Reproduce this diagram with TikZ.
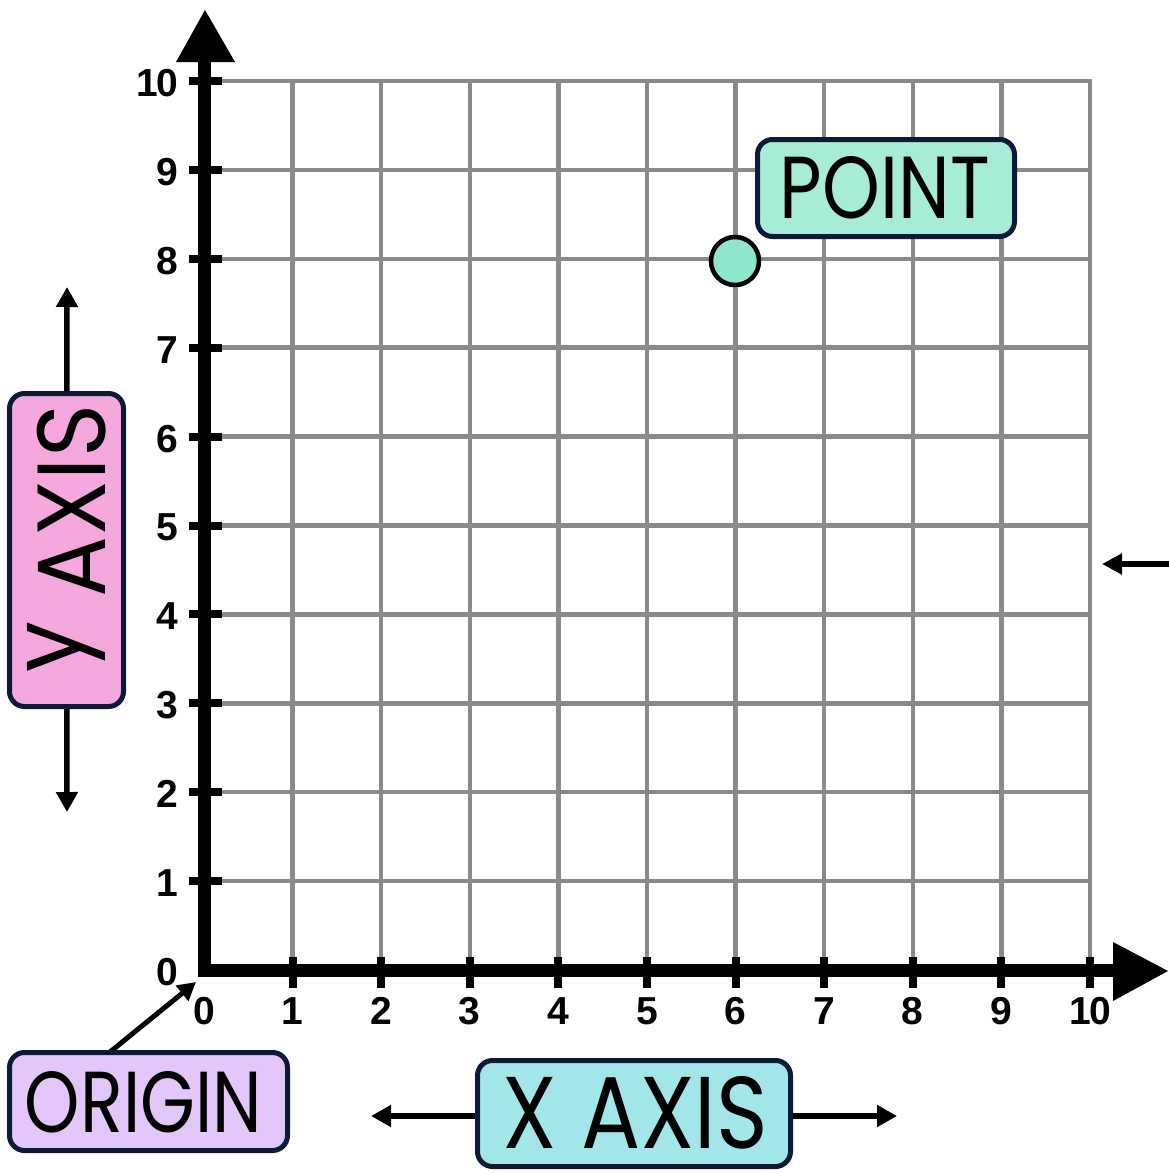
\documentclass[tikz,border=0pt]{standalone}
\usepackage{fontspec}
\usepackage{graphicx}
\setmainfont{Liberation Sans}
\newfontfamily\hand{Poppins}
\usetikzlibrary{arrows.meta}
\definecolor{gridgray}{HTML}{8A8A8A}
\definecolor{boxline}{HTML}{0C1A36}
\definecolor{pointbox}{HTML}{A6ECD7}
\definecolor{pointfill}{HTML}{8EE6CC}
\definecolor{yboxc}{HTML}{F5A8DE}
\definecolor{oboxc}{HTML}{E3C6FA}
\definecolor{xboxc}{HTML}{A2E6EA}
\begin{document}
\begin{tikzpicture}[x=1pt,y=-1pt,
  gridline/.style={gridgray,line width=4.5pt,line cap=rect},
  axisline/.style={black,line width=13pt},
  tickmark/.style={black,line width=8pt},
  ticklabel/.style={font=\fontsize{39}{39}\bfseries\selectfont,inner sep=0pt},
  labelbox/.style={draw=boxline,line width=5pt,rounded corners=15pt,inner sep=0pt},
  labeltext/.style={inner sep=0pt,font=\hand},
  pointer/.style={black,line width=5.5pt,-{Triangle[length=20pt,width=21pt]}},
]
\useasboundingbox (0,0) rectangle (1169,1173);
% grid
\foreach \i in {1,...,10}{
  \draw[gridline] ({204+88.6*\i},81) -- ({204+88.6*\i},970);
  \draw[gridline] (204,{970-88.9*\i}) -- (1090,{970-88.9*\i});
}
% ticks
\foreach \i in {1,...,10}{
  \draw[tickmark] (189,{970-88.9*\i}) -- (222,{970-88.9*\i});
  \draw[tickmark] ({204+88.6*\i},957) -- ({204+88.6*\i},988);
}
% axes
\draw[axisline] (204,977) -- (204,60);
\draw[axisline] (198,970) -- (1115,970);
\fill[black] (176,62) -- (205,10) -- (235,62) -- cycle;
\fill[black] (1113,942) -- (1168,971) -- (1113,1001) -- cycle;
% tick labels
\foreach \i in {0,...,10}{
  \node[ticklabel,anchor=east] (ylab\i) at (178,{972-88.9*\i}) {\ifnum\i=10 1\kern-2pt0\else\i\fi};
  \node[ticklabel] (xlab\i) at ({204+88.6*\i},1011) {\ifnum\i=10 1\kern-2pt0\else\i\fi};
}
% point
\node[circle,draw=black,line width=4.5pt,fill=pointfill,minimum size=48pt,inner sep=0pt] (pt) at (735,261) {};
% coordinates for free arrow ends
\coordinate (ytop) at (67,287);
\coordinate (ybot) at (67,812);
\coordinate (xleft) at (371,1116);
\coordinate (xright) at (897,1116);
\coordinate (ostart) at (110,1052);
\coordinate (otip) at (196,982);
\coordinate (redge) at (1169,564);
\coordinate (rtip) at (1102,564);
% boxes (positions)
\path (66.5,550) coordinate (yboxc0) (148.5,1101.5) coordinate (oboxc0) (634,1113.5) coordinate (xboxc0) (886,188) coordinate (pboxc0);
% arrows (under boxes)
\draw[pointer] (yboxc0) -- (ytop);
\draw[pointer] (yboxc0) -- (ybot);
\draw[pointer] (xboxc0 |- xleft) -- (xleft);
\draw[pointer] (xboxc0 |- xright) -- (xright);
\draw[black,line width=5pt,-{Triangle[length=18pt,width=19pt]}] (ostart) -- (otip);
\draw[black,line width=6pt,-{Triangle[length=20pt,width=20pt]}] (redge) -- (rtip);
% boxes
\node[labelbox,fill=pointbox,minimum width=257pt,minimum height=97pt] (pbox) at (pboxc0) {};
\node[labelbox,fill=yboxc,minimum width=114pt,minimum height=313pt] (ybox) at (yboxc0) {};
\node[labelbox,fill=oboxc,minimum width=278pt,minimum height=98pt] (obox) at (oboxc0) {};
\node[labelbox,fill=xboxc,minimum width=313pt,minimum height=106pt] (xbox) at (xboxc0) {};
% texts
\node[labeltext] (ptxt) at (885,188) {\resizebox{210pt}{62pt}{POINT}};
\node[labeltext] (otxt) at (143.5,1102.5) {\resizebox{237pt}{61pt}{ORIGIN}};
\node[labeltext] (xtxt) at (635.5,1113) {\resizebox{265pt}{72pt}{X AXIS}};
\node[labeltext,rotate=90] (ytxt) at (67,538.5) {\resizebox{267pt}{78pt}{\raisebox{\depth}{y} AXIS}};
\end{tikzpicture}
\end{document}
